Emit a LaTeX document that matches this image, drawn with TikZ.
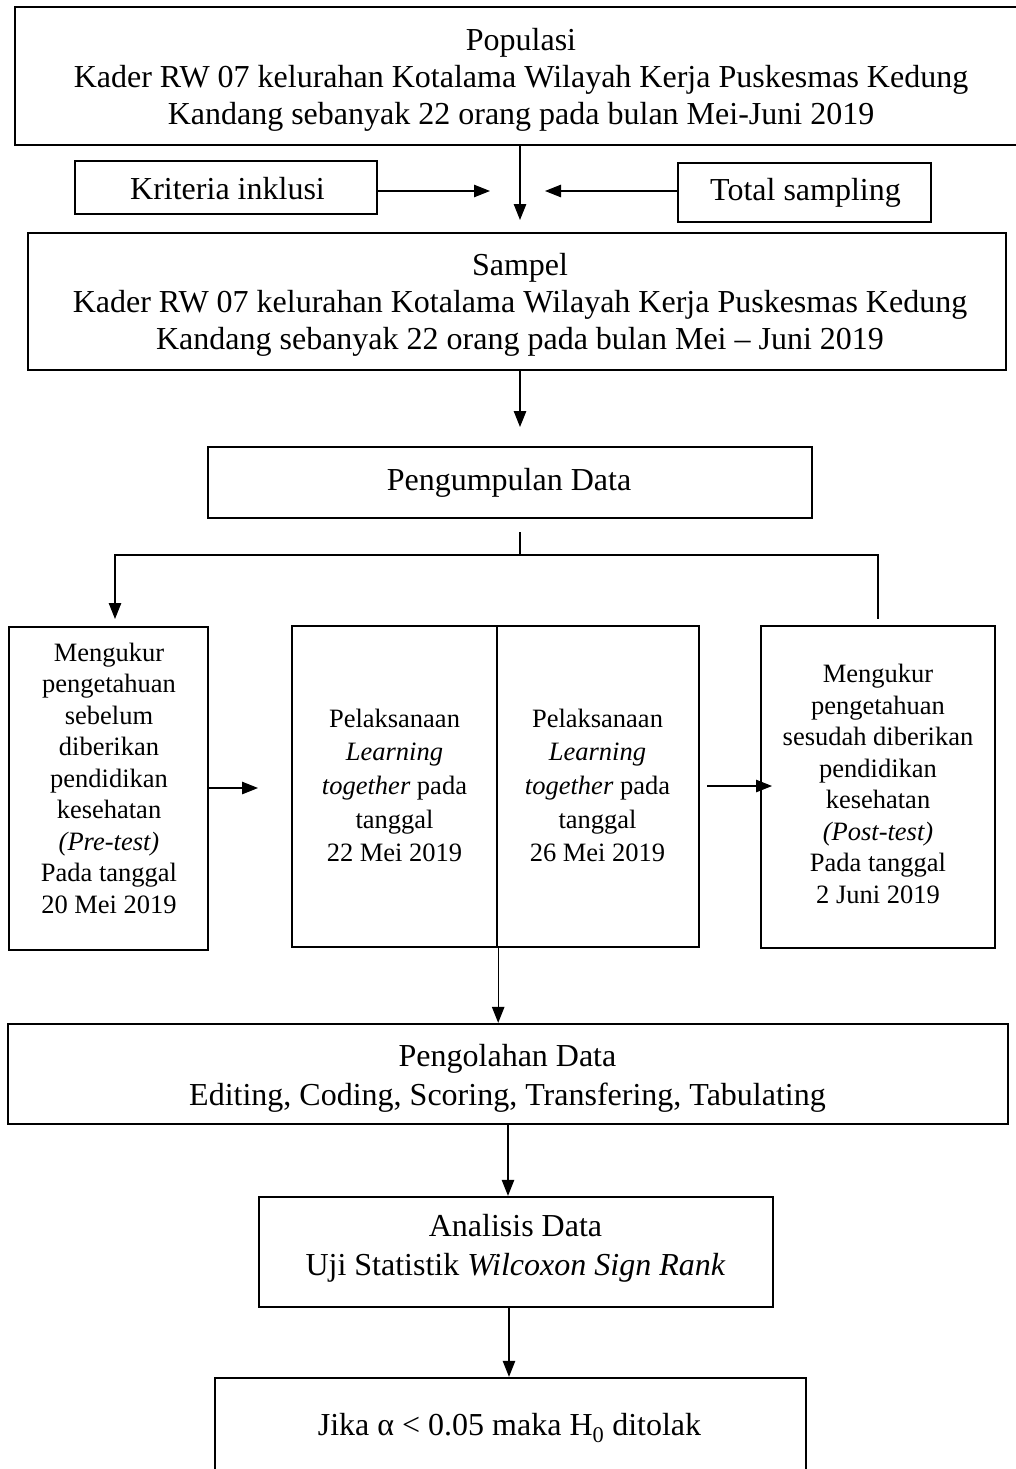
\documentclass[tikz,border=0pt]{standalone}
\usepackage{fontspec}
\setmainfont{Liberation Serif}
\usetikzlibrary{arrows.meta}
\begin{document}
\begin{tikzpicture}[x=1pt,y=-1pt,
  box/.style={draw, rectangle, line width=2.4pt, inner sep=0pt},
  txt/.style={inner sep=0pt, align=center},
  big/.style={font=\fontsize{32}{37}\selectfont},
  bigw/.style={font=\fontsize{32}{39}\selectfont},
  small/.style={font=\fontsize{26.5}{31.5}\selectfont},
  smallw/.style={font=\fontsize{26.5}{33.7}\selectfont},
  arr/.style={line width=1.1pt, -{Triangle[length=16pt,width=12.5pt]}},
  ln/.style={line width=1.1pt}]
\useasboundingbox (0,0) rectangle (1015,1469);

% boxes
\node[box, minimum width=1002pt, minimum height=138pt] (pop) at (516,76) {};
\node[box, minimum width=302pt, minimum height=53pt] (krit) at (226,187.5) {};
\node[box, minimum width=253pt, minimum height=59pt] (total) at (804.5,192.5) {};
\node[box, minimum width=978pt, minimum height=137pt] (sampel) at (517,301.5) {};
\node[box, minimum width=604pt, minimum height=71pt] (kump) at (510,482.5) {};
\node[box, minimum width=199pt, minimum height=323pt] (pre) at (108.5,788.5) {};
\node[box, minimum width=205pt, minimum height=321pt] (midL) at (394.5,786.5) {};
\node[box, minimum width=202pt, minimum height=321pt] (midR) at (598,786.5) {};
\node[box, minimum width=234pt, minimum height=322pt] (post) at (878,787) {};
\node[box, minimum width=1000pt, minimum height=100pt] (olah) at (508,1074) {};
\node[box, minimum width=514pt, minimum height=110pt] (anal) at (516,1252) {};
\node[box, minimum width=591pt, minimum height=110pt] (fin) at (510.5,1433) {};

% texts
\node[txt,big] (popT) at (521,79.5) {Populasi\\Kader RW 07 kelurahan Kotalama Wilayah Kerja Puskesmas Kedung\\Kandang sebanyak 22 orang pada bulan Mei-Juni 2019};
\node[txt,big] (kritT) at (227.5,189) {Kriteria inklusi};
\node[txt,big] (totalT) at (805.5,192.5) {Total sampling};
\node[txt,big] (sampelT) at (520,305) {Sampel\\Kader RW 07 kelurahan Kotalama Wilayah Kerja Puskesmas Kedung\\Kandang sebanyak 22 orang pada bulan Mei -- Juni 2019};
\node[txt,big] (kumpT) at (509,482.5) {Pengumpulan Data};
\node[txt,small] (preT) at (109,778) {Mengukur\\pengetahuan\\sebelum\\diberikan\\pendidikan\\kesehatan\\\textit{(Pre-test)}\\Pada tanggal\\20 Mei 2019};
\node[txt,smallw] (midLT) at (394.5,785.5) {Pelaksanaan\\\textit{Learning}\\\textit{together} pada\\tanggal\\22 Mei 2019};
\node[txt,smallw] (midRT) at (597.5,785.5) {Pelaksanaan\\\textit{Learning}\\\textit{together} pada\\tanggal\\26 Mei 2019};
\node[txt,small] (postT) at (878,784) {Mengukur\\pengetahuan\\sesudah diberikan\\pendidikan\\kesehatan\\\textit{(Post-test)}\\Pada tanggal\\2 Juni 2019};
\node[txt,bigw] (olahT) at (507.5,1078) {Pengolahan Data\\Editing, Coding, Scoring, Transfering, Tabulating};
\node[txt,bigw] (analT) at (515.5,1248) {Analisis Data\\Uji Statistik \textit{Wilcoxon Sign Rank}};
\node[txt,big] (finT) at (509.5,1428) {Jika α < 0.05 maka H\textsubscript{0} ditolak};

% free connector ends
\coordinate (j1) at (520,220);
\coordinate (kt) at (490,191);
\coordinate (tt) at (545,191);
\coordinate (j2) at (520,427);
\coordinate (b0) at (520,532);
\coordinate (bh) at (520,555);
\coordinate (bL) at (115,619);
\coordinate (bR) at (878,619);
\coordinate (pm) at (258,788);
\coordinate (mp0) at (707,786);
\coordinate (mp1) at (772,786);

% connectors
\draw[arr] (pop.south -| j1) -- (j1);
\draw[arr] (krit.east |- kt) -- (kt);
\draw[arr] (total.west |- tt) -- (tt);
\draw[arr] (sampel.south -| j2) -- (j2);
\draw[arr] (b0) -- (bh) -| (bL);
\draw[ln] (bh) -| (bR);
\draw[arr] (pre.east |- pm) -- (pm);
\draw[arr] (mp0) -- (mp1);
\draw[arr] (midL.south east) -- (midL.south east |- olah.north);
\draw[arr] (olah.south) -- (olah.south |- anal.north);
\draw[arr] ([xshift=-7pt]anal.south) -- ([xshift=-7pt]anal.south |- fin.north);
\end{tikzpicture}
\end{document}
